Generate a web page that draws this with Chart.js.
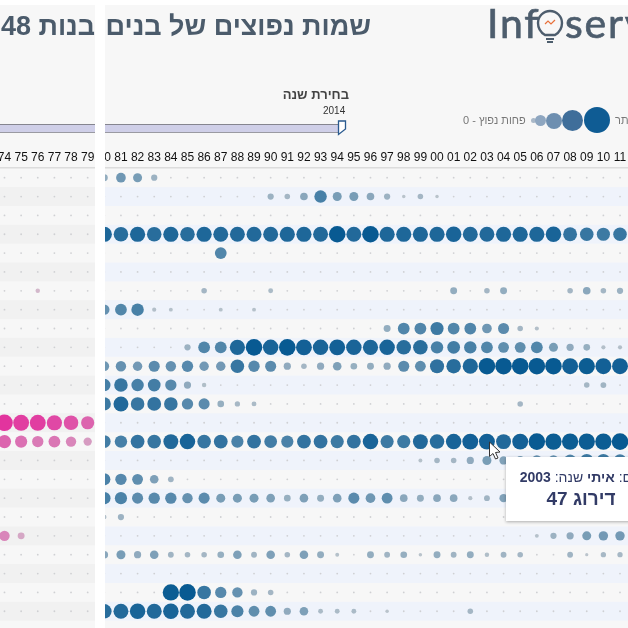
<!DOCTYPE html>
<html lang="he">
<head>
<meta charset="utf-8">
<title>שמות נפוצים</title>
<script src="https://cdn.jsdelivr.net/npm/chart.js@4"></script>
<style>
html, body { margin: 0; padding: 0; width: 628px; height: 628px; overflow: hidden; background: #f7f7f7; font-family: "Liberation Sans", Arial, sans-serif; }
#wrap { position: relative; width: 628px; height: 628px; overflow: hidden; }
#myChart { position: absolute; left: 0; top: 0; }
.abs { position: absolute; white-space: nowrap; }
.title { top: 11px; font-size: 27px; font-weight: bold; color: #4b5b6b; direction: rtl; }
.track { top: 124px; height: 7px; left: 0; width: 340px; background: #cfcfe8; border-top: 1px solid #85858f; border-bottom: 1px solid #9a9aa2; }
.dot { position: absolute; border-radius: 50%; }
.logo { top: -2px; font-family: "Lato", sans-serif; font-size: 41px; color: #4d5d6d; letter-spacing: 1.8px; -webkit-text-stroke: 0.7px #4d5d6d; }
#tip { left: 506px; top: 457px; width: 150px; height: 64px; background: #fff; box-shadow: 0 1px 3px rgba(0,0,0,.3); text-align: center; color: #323b66; direction: rtl; z-index: 5; }
#tip .l1 { margin-top: 12px; font-size: 14px; }
#tip .l2 { margin-top: 3px; font-size: 19px; font-weight: bold; }
</style>
</head>
<body>
<div id="wrap">
<canvas id="myChart" width="628" height="628"></canvas>

<div class="abs title" style="right:257px">שמות נפוצים של בנים</div>
<div class="abs title" style="right:533px">בנות 48</div>

<div class="abs logo" style="left:487px">Inf</div>
<svg class="abs" style="left:536px;top:7px" width="28" height="38" viewBox="0 0 28 38">
  <path d="M9 28 C4 25 2 21 2 16 A12 12 0 0 1 26 16 C26 21 24 25 19 28 Z" fill="none" stroke="#4d5d6d" stroke-width="2.4"/>
  <path d="M10 32 H18 M11 35 H17" stroke="#4d5d6d" stroke-width="2"/>
  <path d="M9 17 L12 14 L15 17 L19 13" fill="none" stroke="#e8703a" stroke-width="1.2"/>
</svg>
<div class="abs logo" style="left:565px">serv</div>

<div class="abs" style="right:279px;top:87px;font-size:13px;font-weight:bold;color:#444;direction:rtl">בחירת שנה</div>
<div class="abs" style="left:323px;top:105px;font-size:10px;color:#333">2014</div>
<div class="abs track"></div>
<svg class="abs" style="left:337px;top:120px" width="10" height="16" viewBox="0 0 10 16">
  <path d="M1.5 1 H8.5 V9 L1.5 14.5 Z" fill="#fff" stroke="#2a5a8f" stroke-width="1.3"/>
</svg>

<div class="abs" style="left:463px;top:114px;font-size:11px;color:#777;direction:rtl">פחות נפוץ - 0</div>
<div class="dot" style="left:531px;top:118px;width:5px;height:5px;background:#a9b8c8"></div>
<div class="dot" style="left:535px;top:115px;width:11px;height:11px;background:#8ea6c0"></div>
<div class="dot" style="left:546px;top:113px;width:16px;height:16px;background:#6e8fb0"></div>
<div class="dot" style="left:562px;top:110px;width:21px;height:21px;background:#3f6e9a"></div>
<div class="dot" style="left:584px;top:107px;width:26px;height:26px;background:#0f5c94"></div>
<div class="abs" style="left:615px;top:114px;font-size:11px;color:#777;direction:rtl">יותר</div>

<div class="abs" id="tip">
  <div class="l1">שם: <b>איתי</b> שנה: <b>2003</b></div>
  <div class="l2">דירוג 47</div>
</div>
<svg class="abs" style="left:488px;top:441px;z-index:6" width="14" height="20" viewBox="0 0 14 20">
  <path d="M1.5 1 V15.5 L5 12.5 L7.5 18 L10 17 L7.5 11.5 L12 11 Z" fill="#fff" stroke="#333" stroke-width="1"/>
</svg>

<div class="abs" style="left:0;top:0;width:628px;height:5px;background:#fff;z-index:9"></div>
<div class="abs" style="left:95px;top:0;width:10px;height:628px;background:#fff;z-index:9"></div>
</div>

<script>
// girls, years 1974-1979, one array per name row
var g00 = [0,0,0,0,0,0];
var g01 = [0,0,0,0,0,0];
var g02 = [0,0,0,0,0,0];
var g03 = [0,0,0,0,0,0];
var g04 = [0,0,0,0,0,0];
var g05 = [0,0,0,0,0,0];
var g06 = [0,0,12,0,0,0];
var g07 = [0,0,0,0,0,0];
var g08 = [0,0,0,0,0,0];
var g09 = [0,0,0,0,0,0];
var g10 = [0,0,0,0,0,0];
var g11 = [0,0,0,0,0,0];
var g12 = [0,0,0,0,0,0];
var g13 = [100,95,95,90,85,75];
var g14 = [75,68,62,65,55,40];
var g15 = [0,0,0,0,0,0];
var g16 = [0,0,0,0,0,0];
var g17 = [0,0,0,0,0,0];
var g18 = [0,0,0,0,0,0];
var g19 = [55,30,0,0,0,0];
var g20 = [0,0,0,0,0,0];
var g21 = [0,0,0,0,0,0];
var g22 = [0,0,0,0,0,0];
var g23 = [0,0,0,0,0,0];

// boys, years 1980-2011
var b00 = [30,50,45,25,0,0,0,0,0,0, 0,0,0,0,0,0,0,0,0,0, 0,0,0,0,0,0,0,0,0,0, 0,0];
var b01 = [0,0,0,0,0,0,0,0,0,0, 25,20,35,70,45,45,35,25,5,20, 5,0,0,0,0,0,0,0,0,0, 0,0];
var b02 = [0,0,0,0,0,0,0,0,0,0, 0,0,0,0,0,0,0,0,0,0, 0,0,0,0,0,0,0,0,0,0, 0,0];
var b03 = [90,85,90,85,90,85,90,88,88,88, 88,90,90,88,100,88,100,90,90,90, 90,92,88,88,90,90,90,92,80,78, 75,78];
var b04 = [0,0,0,0,0,0,0,65,0,0, 0,0,0,0,0,0,0,0,0,0, 0,0,0,0,0,0,0,0,0,0, 0,0];
var b05 = [0,0,0,0,0,0,0,0,0,0, 0,0,0,0,0,0,0,0,0,0, 0,0,0,0,0,0,0,0,0,0, 0,0];
var b06 = [0,0,0,0,0,0,20,0,0,0, 15,0,0,0,0,0,0,0,0,0, 0,30,0,20,30,0,0,0,20,35, 20,25];
var b07 = [55,65,70,10,8,0,0,8,0,8, 0,0,0,0,0,0,0,0,0,0, 0,0,0,0,0,0,0,0,0,0, 0,0];
var b08 = [0,0,0,0,0,0,0,0,0,0, 0,0,0,0,0,0,0,30,65,65, 75,65,65,50,60,20,10,0,0,0, 0,0];
var b09 = [0,0,0,0,0,25,65,65,90,100, 92,100,95,92,95,92,90,92,85,85, 70,72,70,65,58,58,65,45,32,28, 10,10];
var b10 = [50,55,48,60,55,62,48,48,78,62, 60,32,20,32,42,28,30,32,60,58, 82,85,90,100,100,100,100,100,95,98, 95,95];
var b11 = [70,78,70,72,62,32,12,0,0,0, 0,0,0,0,0,0,0,0,0,0, 0,0,0,0,0,0,0,0,0,20, 22,0];
var b12 = [75,88,78,80,78,62,60,28,18,15, 0,0,0,0,0,0,0,0,0,0, 0,0,0,0,0,20,0,0,0,0, 0,0];
var b13 = [0,0,0,0,0,0,0,0,0,0, 0,0,0,0,0,0,0,0,0,0, 0,0,0,0,0,0,0,0,0,0, 0,0];
var b14 = [72,70,80,78,88,92,78,80,68,80, 72,68,80,80,75,80,92,75,75,88, 85,92,95,95,88,95,100,98,98,98, 98,100];
var b15 = [0,0,0,0,0,0,0,0,0,0, 0,0,0,0,0,0,0,0,0,8, 20,20,32,45,40,45,55,55,65,75, 75,70];
var b16 = [68,62,58,42,22,0,0,0,0,0, 0,0,0,0,0,0,0,0,0,0, 0,0,0,0,0,0,0,0,0,0, 0,0];
var b17 = [70,68,60,62,62,55,60,45,45,45, 42,28,42,30,42,60,50,58,35,30, 35,35,10,22,40,30,20,20,20,20, 20,20];
var b18 = [12,25,0,0,0,0,0,0,0,0, 0,0,0,0,0,0,0,0,0,0, 0,0,0,0,0,0,0,0,0,0, 0,0];
var b19 = [0,0,0,0,0,0,0,0,0,0, 0,0,0,0,0,0,0,0,0,0, 0,0,0,0,0,0,8,25,32,45, 48,48];
var b20 = [35,45,32,42,22,20,20,28,42,22, 42,20,42,30,8,0,30,22,28,5, 30,22,30,12,22,20,0,0,22,3, 18,18];
var b21 = [0,0,0,0,0,0,0,0,0,0, 0,0,0,0,0,0,0,0,0,0, 0,0,0,0,0,0,0,0,0,0, 0,0];
var b22 = [0,0,0,0,98,100,78,62,55,25, 20,0,0,0,0,0,0,0,0,0, 0,0,0,0,0,0,0,0,0,0, 0,0];
var b23 = [85,88,92,88,92,88,88,78,68,58, 58,32,42,15,15,15,0,5,0,0, 0,0,20,0,0,0,0,0,0,0, 0,0];

var girlRows = [g00,g01,g02,g03,g04,g05,g06,g07,g08,g09,g10,g11,g12,g13,g14,g15,g16,g17,g18,g19,g20,g21,g22,g23];
var boyRows = [b00,b01,b02,b03,b04,b05,b06,b07,b08,b09,b10,b11,b12,b13,b14,b15,b16,b17,b18,b19,b20,b21,b22,b23];

function buildPoints (rows, firstYear) {
    var pts = [];
    rows.forEach(function (row, y) {
        row.forEach(function (v, i) {
            pts.push({ x: firstYear + i, y: y, r: v ? 1.4 + v / 14.5 : 0.9, v: v });
        });
    });
    return pts;
}

function mix (lo, hi, t) {
    return 'rgb(' + lo.map(function (c, i) { return Math.round(c + (hi[i] - c) * t); }).join(',') + ')';
}

function dotColor (lo, hi, gamma) {
    return function (c) {
        var v = c.raw.v;
        return v ? mix(lo, hi, Math.pow(v / 100, gamma)) : '#cfd0d3';
    };
}

// row stripes, behind the dots
var stripes = {
    id: 'stripes',
    beforeDatasetsDraw: function (chart) {
        var c = chart.ctx, yS = chart.scales.y, a = chart.chartArea;
        c.save();
        for (var i = 1; i < 24; i += 2) {
            var top = yS.getPixelForValue(i - 0.5), bot = yS.getPixelForValue(i + 0.5);
            c.fillStyle = '#f1f1f1';
            c.fillRect(a.left, top, 95, bot - top);
            c.fillStyle = '#eff3fb';
            c.fillRect(105, top, a.right - 105, bot - top);
        }
        c.fillStyle = '#dcdcdc';
        c.fillRect(a.left, a.top - 1, a.right, 1.5);
        c.restore();
    }
};

var ctx = document.getElementById('myChart').getContext('2d');
var chart = new Chart(ctx, {
    type: 'bubble',
    plugins: [stripes],
    data: {
        datasets: [{
            label: 'בנות',
            data: buildPoints(girlRows, 1974),
            backgroundColor: dotColor([210,190,205], [226,52,158], 1.5),
            borderWidth: 0
        }, {
            label: 'בנים',
            data: buildPoints(boyRows, 1980),
            backgroundColor: dotColor([190,198,205], [8,90,146], 1.2),
            borderWidth: 0
        }]
    },
    options: {
        responsive: false,
        animation: false,
        events: [],
        layout: { padding: 0, autoPadding: false },
        plugins: { legend: { display: false }, tooltip: { enabled: false } },
        scales: {
            x: {
                type: 'linear',
                position: 'top',
                min: 1973.73,
                max: 2011.48,
                grid: { display: false, drawTicks: false },
                border: { display: false },
                afterFit: function (s) { s.height = 168; s.paddingLeft = 0; s.paddingRight = 0; },
                ticks: {
                    stepSize: 1,
                    autoSkip: false,
                    includeBounds: false,
                    maxRotation: 0,
                    padding: 3,
                    color: '#111',
                    font: { family: '"Liberation Sans", Arial, sans-serif', size: 12 },
                    callback: function (v) { return String(v % 100).padStart(2, '0'); }
                }
            },
            y: {
                type: 'linear',
                display: false,
                reverse: true,
                min: -0.515,
                max: 23.888
            }
        }
    }
});
</script>
</body>
</html>
